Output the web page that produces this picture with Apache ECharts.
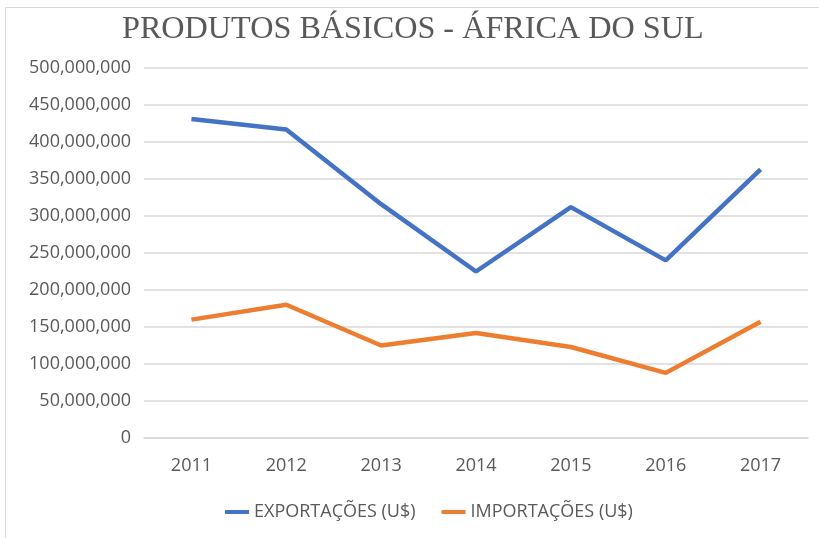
<!DOCTYPE html>
<html>
<head>
<meta charset="utf-8">
<script src="https://cdn.jsdelivr.net/npm/echarts@6/dist/echarts.min.js"></script>
<style>
    html, body { margin: 0; padding: 0; background: #fff; }
    .frame {
        position: absolute; left: 5px; top: 7px; width: 830px; height: 550px;
        border: 1px solid #d9d9d9;
    }
    #chart { position: absolute; left: 0; top: 0; width: 819px; height: 538px; }
</style>
</head>
<body>
<div class="frame"></div>
<div id="chart"></div>
<script>
// anos e valores (US$)
var years = ['2011', '2012', '2013', '2014', '2015', '2016', '2017'];
var exportacoes = [431000000, 417000000, 316000000, 225000000, 312000000, 240000000, 363000000];
var importacoes = [160000000, 180000000, 125000000, 142000000, 123000000, 88000000, 157000000];
var seriesNames = ['EXPORTAÇÕES (U$)', 'IMPORTAÇÕES (U$)'];

var myChart = echarts.init(document.getElementById('chart'));
myChart.setOption({
    animation: false,
    title: {
        text: 'PRODUTOS BÁSICOS - ÁFRICA DO SUL',
        left: 117,
        top: 9,
        textStyle: {
            fontFamily: 'Liberation Serif',
            fontWeight: 'normal',
            fontSize: 32.2,
            color: '#595959'
        }
    },
    legend: {
        bottom: 12,
        left: 220,
        itemWidth: 24,
        itemHeight: 4,
        itemGap: 26,
        icon: 'rect',
        textStyle: { fontFamily: 'Open Sans', fontSize: 18, color: '#595959' },
        data: seriesNames
    },
    grid: { left: 144, right: 11, top: 68, bottom: 100 },
    xAxis: {
        type: 'category',
        data: years,
        axisTick: { show: false },
        axisLine: { lineStyle: { color: '#d9d9d9', width: 1.5 } },
        axisLabel: { margin: 19, fontFamily: 'Open Sans', fontSize: 18, color: '#595959' }
    },
    yAxis: {
        type: 'value',
        min: 0,
        max: 500000000,
        interval: 50000000,
        axisLine: { show: false },
        axisTick: { show: false },
        splitLine: { lineStyle: { color: '#d9d9d9', width: 1.5 } },
        axisLabel: {
            margin: 13,
            fontFamily: 'Open Sans',
            fontSize: 18,
            color: '#595959',
            formatter: function (v) { return v.toLocaleString('en-US'); }
        }
    },
    series: [
        {
            name: seriesNames[0],
            type: 'line',
            data: exportacoes,
            symbol: 'none',
            lineStyle: { color: '#4472c4', width: 4.5 },
            itemStyle: { color: '#4472c4' }
        },
        {
            name: seriesNames[1],
            type: 'line',
            data: importacoes,
            symbol: 'none',
            lineStyle: { color: '#ed7d31', width: 4.5 },
            itemStyle: { color: '#ed7d31' }
        }
    ]
});
</script>
</body>
</html>
